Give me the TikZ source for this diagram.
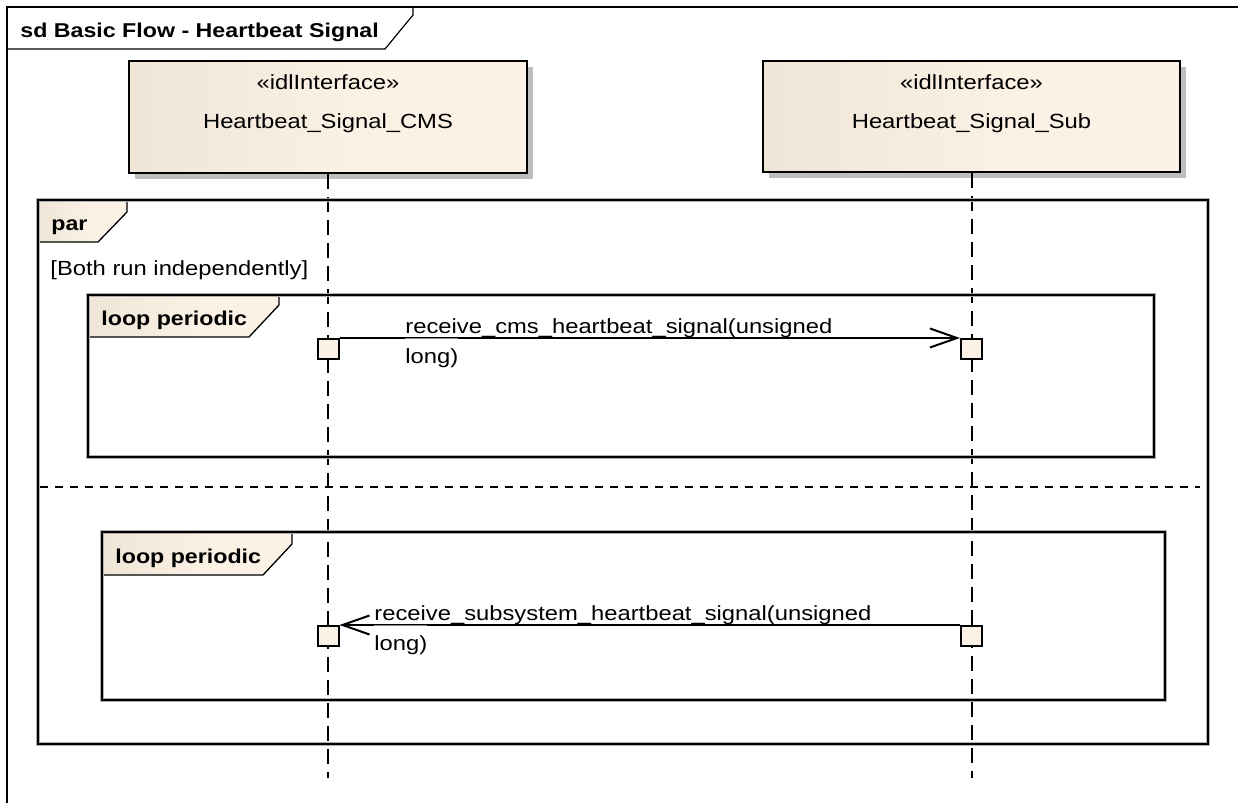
\documentclass[tikz,border=0pt]{standalone}
\usepackage{fontspec}
\setmainfont{Liberation Sans}[FakeStretch=1.16]
\usetikzlibrary{arrows.meta,shadows}
\definecolor{eaA}{RGB}{228,220,206}
\definecolor{eaB}{RGB}{251,241,228}
\definecolor{shad}{RGB}{190,190,190}
\definecolor{halo}{RGB}{175,175,175}
\pgfdeclarehorizontalshading{eagrad}{100bp}{color(0bp)=(eaA); color(55bp)=(eaB); color(100bp)=(eaB)}
\tikzset{
  lifebox/.style={draw=black, line width=1.2pt, shade, shading=eagrad, inner sep=0pt,
    drop shadow={shadow xshift=3pt, shadow yshift=-3pt, fill=shad, opacity=1}},
  tabshape/.style={draw=black, line width=0.65pt, shade, shading=eagrad},
  fragline/.style={draw=black, line width=1.1pt, preaction={draw=halo, line width=2pt}},
  lifeline/.style={draw=black, line width=1.2pt, dash pattern=on 7.5pt off 4pt},
  sepline/.style={draw=black, line width=1pt, dash pattern=on 4pt off 3.5pt},
  actbox/.style={draw=black, line width=1pt, fill=eaB, minimum width=10.5pt, minimum height=10pt, inner sep=0pt, anchor=north},
  msgline/.style={draw=black, line width=1pt, -{Straight Barb[length=13.5pt, width=9.5pt, line width=1pt]}},
  plain/.style={inner sep=0pt, font=\fontsize{10.25}{12}\selectfont},
  boldlab/.style={inner sep=0pt, font=\fontsize{10}{12}\selectfont\bfseries, anchor=base west},
  lablow/.style={plain, anchor=north west, text height=12.5pt, text depth=3pt, fill=white, fill opacity=0.55, text opacity=1},
}
\begin{document}
\begin{tikzpicture}[x=0.5pt, y=-0.5pt]
\useasboundingbox (0,0) rectangle (1238,803);
\fill[white] (0,0) rectangle (1238,803);

% outer diagram frame
\coordinate (frNW) at (7,7);
\coordinate (frSW) at (7,803);
\coordinate (frNE) at (1238,7);
\draw[line width=0.75pt] (frSW) -- (frNW) -- (frNE);
\draw[line width=0.6pt] (7,49) -- (385,49) -- (413,15) -- (413,7);
\node[boldlab] (title) at (20,38) {sd Basic Flow - Heartbeat Signal};

% lifeline heads
\node[lifebox, minimum width=199pt, minimum height=56pt] (cms) at (328,117) {};
\node[lifebox, minimum width=208.5pt, minimum height=55.5pt] (sub) at (971.5,116.5) {};
\node[plain, anchor=base] (cmsst) at (328,90) {«idlInterface»};
\node[plain, anchor=base] (cmsnm) at (328,128) {Heartbeat\_Signal\_CMS};
\node[plain, anchor=base] (subst) at (971.5,90) {«idlInterface»};
\node[plain, anchor=base] (subnm) at (971.5,128) {Heartbeat\_Signal\_Sub};

% lifelines
\coordinate (cmsend) at (328,778);
\coordinate (subend) at (972,778);
\draw[lifeline] (cms.south) -- (cmsend);
\draw[lifeline] ([xshift=0.25pt]sub.south) -- (subend);

% par fragment
\coordinate (parNW) at (38,200);
\coordinate (parSE) at (1208,744);
\coordinate (sepL) at (40,487);
\coordinate (sepR) at (1200,487);
\path[tabshape] (parNW) -- ++(89,0) -- ++(0,12) -- ++(-29,30) -- ++(-60,0) -- cycle;
\draw[fragline] (parNW) rectangle (parSE);
\node[boldlab] (parlab) at (51,230) {par};
\node[plain, anchor=base west] (guard) at (50,275) {[Both run independently]};
\draw[sepline] (sepL) -- (sepR);

% loop 1
\coordinate (l1NW) at (88,295);
\coordinate (l1SE) at (1154,457);
\path[tabshape] (l1NW) -- ++(191,0) -- ++(0,10) -- ++(-30,32) -- ++(-161,0) -- cycle;
\draw[fragline] (l1NW) rectangle (l1SE);
\node[boldlab] (l1lab) at (101,325) {loop periodic};

% loop 2
\coordinate (l2NW) at (102,532);
\coordinate (l2SE) at (1165,700);
\path[tabshape] (l2NW) -- ++(190,0) -- ++(0,12) -- ++(-29,31) -- ++(-161,0) -- cycle;
\draw[fragline] (l2NW) rectangle (l2SE);
\node[boldlab] (l2lab) at (115,563) {loop periodic};

% activations
\node[actbox] (a1) at (328,338) {};
\node[actbox] (b1) at (971.5,338) {};
\node[actbox] (a2) at (328,625) {};
\node[actbox] (b2) at (971.5,625) {};

% messages
\draw[msgline] (a1.north east) -- (b1.north west);
\node[plain, anchor=base west] (m1a) at (405,333) {receive\_cms\_heartbeat\_signal(unsigned};
\node[lablow] (m1b) at (405,338) {long)};

\draw[msgline] (b2.north west) -- (a2.north east);
\node[plain, anchor=base west] (m2a) at (374,620) {receive\_subsystem\_heartbeat\_signal(unsigned};
\node[lablow] (m2b) at (374,625) {long)};
\end{tikzpicture}
\end{document}
